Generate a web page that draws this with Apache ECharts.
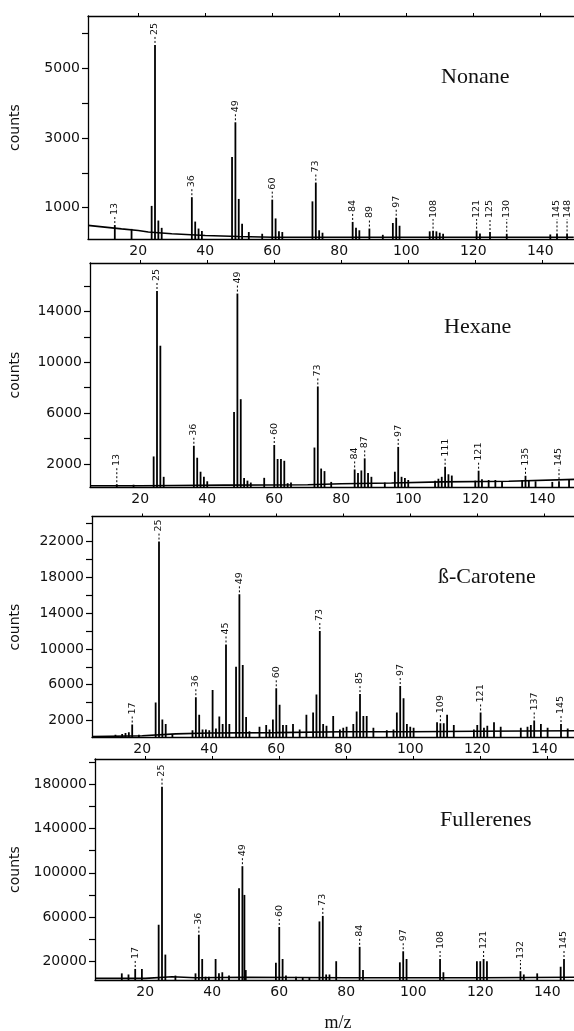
<!DOCTYPE html>
<html>
<head>
<meta charset="utf-8">
<title>Mass spectra</title>
<script src="https://cdn.jsdelivr.net/npm/echarts@6.0.0/dist/echarts.min.js"></script>
<style>
  html, body { margin: 0; padding: 0; background: #fff; }
  #chart { width: 574px; height: 1031px; }
</style>
</head>
<body>
<div id="chart"></div>
<script>
// m/z axis, shared by the four spectra
const massRange = [5, 150];
const massTicks = [20, 40, 60, 80, 100, 120, 140];

// Nonane
const nonaneTrace = [[5, 490], [10, 440], [15, 390], [20, 345], [23, 300], [30, 250], [40, 200], [50, 170], [60, 150], [100, 150], [150, 150]];
const nonanePeaks = [[13, 500], [18, 390], [24, 1050], [25, 5670], [26, 630], [27, 420], [36, 1300], [37, 600], [38, 400], [39, 330],
  [48, 2450], [49, 3450], [50, 1250], [51, 540], [53, 300], [57, 250], [60, 1230], [61, 690], [62, 320], [63, 300],
  [72, 1180], [73, 1720], [74, 350], [75, 280], [84, 590], [85, 420], [86, 350], [89, 400], [93, 220], [96, 560], [97, 710], [98, 480],
  [107, 320], [108, 340], [109, 320], [110, 280], [111, 250], [121, 340], [122, 260], [125, 300], [130, 250], [143, 230], [145, 260], [148, 260]];
const nonaneMarks = [13, 25, 36, 49, 60, 73, 84, 89, 97, 108, 121, 125, 130, 145, 148];
const nonaneTicks = [1000, 2000, 3000, 4000, 5000, 6000];
const nonaneLabels = [1000, 3000, 5000];

// Hexane
const hexaneTrace = [[5, 300], [20, 300], [30, 320], [45, 350], [70, 380], [80, 450], [95, 520], [110, 600], [130, 650], [150, 800]];
const hexanePeaks = [[13, 420], [18, 380], [24, 2600], [25, 15600], [26, 11300], [27, 1000], [36, 3440], [37, 2500], [38, 1400], [39, 1000], [40, 650],
  [48, 6100], [49, 15400], [50, 7100], [51, 900], [52, 700], [53, 550], [57, 920], [60, 3500], [61, 2400], [62, 2400], [63, 2260], [64, 500], [65, 550],
  [72, 3300], [73, 8100], [74, 1650], [75, 1450], [77, 600], [84, 1580], [85, 1300], [86, 1500], [87, 2450], [88, 1300], [89, 1000], [93, 550],
  [96, 1400], [97, 3350], [98, 1000], [99, 900], [100, 750], [108, 700], [109, 850], [110, 1000], [111, 1790], [112, 1200], [113, 1100],
  [120, 700], [121, 1480], [122, 800], [124, 750], [126, 750], [128, 650], [134, 750], [135, 1080], [136, 700], [138, 650], [143, 600], [145, 660], [148, 750]];
const hexaneMarks = [13, 25, 36, 49, 60, 73, 84, 87, 97, 111, 121, 135, 145];
const hexaneTicks = [2000, 4000, 6000, 8000, 10000, 12000, 14000, 16000];
const hexaneLabels = [2000, 6000, 10000, 14000];

// beta-carotene
const caroteneTrace = [[5, 200], [20, 300], [30, 500], [40, 600], [60, 650], [80, 750], [100, 750], [120, 800], [150, 850]];
const carotenePeaks = [[12, 400], [14, 500], [15, 600], [16, 700], [17, 1550], [19, 400], [24, 4000], [25, 22000], [26, 2100], [27, 1600], [29, 500],
  [35, 900], [36, 4600], [37, 2650], [38, 1000], [39, 1000], [40, 900], [41, 5400], [42, 1100], [43, 2450], [44, 1600], [45, 10500], [46, 1600],
  [48, 8000], [49, 16100], [50, 8200], [51, 2400], [52, 800], [55, 1300], [57, 1500], [58, 1000], [59, 2100], [60, 5600], [61, 3750], [62, 1500], [63, 1500],
  [65, 1600], [67, 1000], [69, 2650], [71, 2900], [72, 4900], [73, 12000], [74, 1600], [75, 1400], [77, 2500], [79, 1000], [80, 1200], [81, 1300],
  [83, 1600], [84, 3000], [85, 4950], [86, 2500], [87, 2500], [89, 1200], [93, 900], [95, 1000], [96, 2900], [97, 5850], [98, 4500], [99, 1600],
  [100, 1300], [101, 1200], [108, 1800], [109, 1700], [110, 1700], [111, 2650], [113, 1500], [119, 1000], [120, 1500], [121, 2900], [122, 1200],
  [123, 1400], [125, 1800], [127, 1300], [133, 1200], [135, 1300], [136, 1500], [137, 2000], [139, 1600], [141, 1200], [145, 1600], [147, 1100]];
const caroteneMarks = [17, 25, 36, 45, 49, 60, 73, 85, 97, 109, 121, 137, 145];
const caroteneTicks = [2000, 4000, 6000, 8000, 10000, 12000, 14000, 16000, 18000, 20000, 22000, 24000];
const caroteneLabels = [2000, 6000, 10000, 14000, 18000, 22000];

// Fullerenes
const fullereneTrace = [[5, 4500], [20, 4500], [28, 6000], [35, 5000], [50, 5500], [80, 5000], [120, 5000], [150, 5500]];
const fullerenePeaks = [[13, 9000], [15, 8000], [17, 13000], [19, 13000], [24, 53000], [25, 178000], [26, 26000], [29, 7000],
  [35, 9000], [36, 44000], [37, 22000], [38, 6000], [39, 6000], [41, 22000], [42, 9000], [43, 10000], [45, 7000],
  [48, 86000], [49, 106000], [49.6, 80000], [50, 12000], [59, 18500], [60, 51000], [61, 22000], [62, 7000], [65, 6000], [67, 5500], [69, 5500],
  [72, 56000], [73, 61000], [74, 8000], [75, 8000], [77, 20000], [84, 33000], [85, 12000], [96, 19000], [97, 29000], [98, 22000],
  [108, 22000], [109, 10000], [119, 20000], [120, 20000], [121, 22000], [122, 20000], [132, 11000], [133, 8000], [137, 9000], [144, 15000], [145, 22000]];
const fullereneMarks = [17, 25, 36, 49, 60, 73, 84, 97, 108, 121, 132, 145];
const fullereneTicks = [20000, 40000, 60000, 80000, 100000, 120000, 140000, 160000, 180000, 200000];
const fullereneLabels = [20000, 60000, 100000, 140000, 180000];

const panels = [
  { title: 'Nonane', trace: nonaneTrace, peaks: nonanePeaks, marks: nonaneMarks, ticks: nonaneTicks, labels: nonaneLabels,
    yMin: 100, yMax: 6500, left: 88, top: 16, height: 223, titleX: 441, titleY: 77 },
  { title: 'Hexane', trace: hexaneTrace, peaks: hexanePeaks, marks: hexaneMarks, ticks: hexaneTicks, labels: hexaneLabels,
    yMin: 200, yMax: 17800, left: 90, top: 263, height: 224, titleX: 444, titleY: 327 },
  { title: 'ß-Carotene', trace: caroteneTrace, peaks: carotenePeaks, marks: caroteneMarks, ticks: caroteneTicks, labels: caroteneLabels,
    yMin: 100, yMax: 24800, left: 92, top: 516.5, height: 221, titleX: 438, titleY: 577 },
  { title: 'Fullerenes', trace: fullereneTrace, peaks: fullerenePeaks, marks: fullereneMarks, ticks: fullereneTicks, labels: fullereneLabels,
    yMin: 3000, yMax: 203000, left: 95, top: 759, height: 221, titleX: 440, titleY: 820 }
];

const ink = '#000';
const textInk = '#111';
const sans = 'DejaVu Sans';
const serif = 'Liberation Serif';
const pxPerMass = 3.35;

const chart = echarts.init(document.getElementById('chart'), null, { renderer: 'canvas' });

const grid = [], xAxis = [], yAxis = [], series = [], graphic = [];

panels.forEach(function (p, i) {
  grid.push({ left: p.left, top: p.top, width: (massRange[1] - massRange[0]) * pxPerMass, height: p.height, outerBoundsMode: 'none' });

  // bottom axis with labels
  xAxis.push({
    type: 'value', gridIndex: i, position: 'bottom', min: massRange[0], max: massRange[1],
    axisLine: { show: true, onZero: false, lineStyle: { color: ink, width: 1.3 } },
    axisTick: { show: false },
    axisLabel: { customValues: massTicks, margin: 5, color: textInk, fontSize: 14, fontFamily: sans, formatter: v => String(v) },
    splitLine: { show: false },
    name: i === panels.length - 1 ? 'm/z' : '',
    nameLocation: 'middle', nameGap: 34,
    nameTextStyle: { color: textInk, fontSize: 18, fontFamily: serif }
  });
  // top frame with small ticks
  xAxis.push({
    type: 'value', gridIndex: i, position: 'top', min: massRange[0], max: massRange[1],
    axisLine: { show: true, onZero: false, lineStyle: { color: ink, width: 1.3 } },
    axisTick: { show: true, customValues: massTicks, length: 3, lineStyle: { color: ink, width: 1 } },
    axisLabel: { show: false },
    splitLine: { show: false }
  });

  yAxis.push({
    type: 'value', gridIndex: i, position: 'left', min: p.yMin, max: p.yMax,
    axisLine: { show: true, onZero: false, lineStyle: { color: ink, width: 1.3 } },
    axisTick: { show: true, customValues: p.ticks, length: 6, lineStyle: { color: ink, width: 1.2 } },
    axisLabel: { customValues: p.labels, margin: 8, color: textInk, fontSize: 14, fontFamily: sans, formatter: v => String(v) },
    splitLine: { show: false },
    name: 'counts', nameLocation: 'middle', nameGap: p.left - 22,
    nameTextStyle: { color: textInk, fontSize: 14, fontFamily: sans }
  });

  // slowly varying floor of the trace
  series.push({
    type: 'line', xAxisIndex: i * 2, yAxisIndex: i, data: p.trace,
    showSymbol: false, silent: true, clip: true,
    lineStyle: { color: ink, width: 1.6 }
  });

  // spikes
  series.push({
    type: 'custom', xAxisIndex: i * 2, yAxisIndex: i, data: p.peaks, clip: true, silent: true,
    encode: { x: 0, y: 1 },
    renderItem: function (params, api) {
      const foot = api.coord([api.value(0), p.yMin]);
      const top = api.coord([api.value(0), api.value(1)]);
      return {
        type: 'line',
        shape: { x1: foot[0], y1: foot[1], x2: top[0], y2: top[1] },
        style: { stroke: ink, lineWidth: 1.8 }
      };
    }
  });

  // m/z labels over the marked peaks
  const markRows = p.marks.map(function (m) {
    const hit = p.peaks.find(r => r[0] === m);
    return [m, hit ? hit[1] : p.yMin];
  });
  series.push({
    type: 'custom', xAxisIndex: i * 2, yAxisIndex: i, data: markRows, clip: false, silent: true,
    encode: { x: 0, y: 1 },
    renderItem: function (params, api) {
      const mz = api.value(0);
      const top = api.coord([mz, api.value(1)]);
      const floorY = api.coord([mz, p.yMin])[1] - 20;
      const textY = Math.min(top[1] - 9, floorY);
      return {
        type: 'group',
        children: [
          { type: 'line', shape: { x1: top[0], y1: top[1] - 2, x2: top[0], y2: textY }, style: { stroke: ink, lineWidth: 1, lineDash: [2, 2] } },
          { type: 'text', x: top[0], y: textY - 1, rotation: Math.PI / 2,
            style: { text: String(mz), font: '9.5px "DejaVu Sans"', fill: textInk, align: 'left', verticalAlign: 'middle' } }
        ]
      };
    }
  });

  graphic.push({
    type: 'text', x: p.titleX, y: p.titleY, silent: true,
    style: { text: p.title, font: '22px "Liberation Serif"', fill: textInk, verticalAlign: 'middle' }
  });
});

chart.setOption({
  animation: false,
  backgroundColor: '#fff',
  grid: grid,
  xAxis: xAxis,
  yAxis: yAxis,
  series: series,
  graphic: graphic
});
</script>
</body>
</html>
